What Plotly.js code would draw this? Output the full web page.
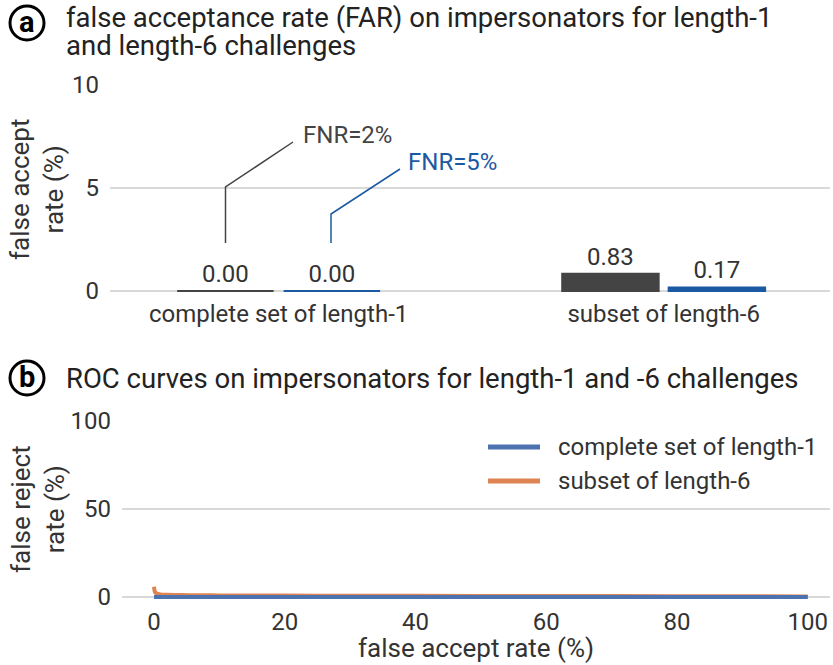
<!DOCTYPE html>
<html>
<head>
<meta charset="utf-8">
<script src="https://cdn.plot.ly/plotly-3.0.1.min.js"></script>
<style>html,body{margin:0;padding:0;background:#fff}#chart{width:833px;height:665px}</style>
</head>
<body>
<div id="chart"></div>
<script>
// ---- data ----
const barCategories = ["complete set of length-1", "subset of length-6"];
const barSeriesNames = ["FNR=2%", "FNR=5%"];
const farFNR2 = [0.00, 0.83];
const farFNR5 = [0.00, 0.17];
const barYTicks = [0, 5, 10];

const rocNames = ["complete set of length-1", "subset of length-6"];
const rocLen1FAR = [0, 10, 20, 40, 60, 80, 100];
const rocLen1FRR = [0, 0, 0, 0, 0, 0, 0];
const rocLen6FAR = [0, 0.1, 0.3, 0.6, 1, 2, 4, 7, 10, 20, 30, 50, 70, 90, 100];
const rocLen6FRR = [5.8, 3.2, 2.2, 1.8, 1.5, 1.3, 1.1, 1.0, 0.9, 0.8, 0.7, 0.6, 0.5, 0.4, 0.3];
const rocXTicks = [0, 20, 40, 60, 80, 100];
const rocYTicks = [0, 50, 100];

// ---- styling ----
const W = 833, H = 665;
const px = p => p / W;
const py = p => 1 - p / H;
const FONT = "Roboto, 'Noto Sans', sans-serif";
const TXT = "#333333";
const DARK = "#444444";
const BLUE = "#1b5aa2";
const ROC_BLUE = "#4c72b0";
const ROC_ORANGE = "#dd8452";
const GRID = "#d9d9d9";

const traces = [
  {type: "bar", name: barSeriesNames[0], x: barCategories, y: farFNR2, xaxis: "x", yaxis: "y",
   marker: {color: DARK, line: {color: DARK, width: 2}},
   texttemplate: "%{y:.2f}", textposition: "outside", cliponaxis: false,
   textfont: {family: FONT, size: 24, color: TXT}, showlegend: false, hoverinfo: "x+y+name"},
  {type: "bar", name: barSeriesNames[1], x: barCategories, y: farFNR5, xaxis: "x", yaxis: "y",
   marker: {color: BLUE, line: {color: BLUE, width: 2}},
   texttemplate: "%{y:.2f}", textposition: "outside", cliponaxis: false,
   textfont: {family: FONT, size: 24, color: TXT}, showlegend: false, hoverinfo: "x+y+name"},
  {type: "scatter", mode: "lines", name: rocNames[1], x: rocLen6FAR, y: rocLen6FRR, xaxis: "x2", yaxis: "y2",
   line: {color: ROC_ORANGE, width: 4, shape: "spline", smoothing: 0.6}, showlegend: false},
  {type: "scatter", mode: "lines", name: rocNames[0], x: rocLen1FAR, y: rocLen1FRR, xaxis: "x2", yaxis: "y2",
   line: {color: ROC_BLUE, width: 4}, showlegend: false}
];

function circleShape(cx, cy, r) {
  return {type: "circle", xref: "paper", yref: "paper",
    x0: px(cx - r), x1: px(cx + r), y0: py(cy + r), y1: py(cy - r),
    line: {color: "#000", width: 3}};
}
function pathPx(points, color) {
  const d = points.map((p, i) => (i ? "L" : "M") + px(p[0]) + "," + py(p[1])).join(" ");
  return {type: "path", xref: "paper", yref: "paper", path: d, line: {color: color, width: 1.5}};
}
function linePx(x0, x1, y, color) {
  return {type: "line", xref: "paper", yref: "paper", x0: px(x0), x1: px(x1), y0: py(y), y1: py(y),
    line: {color: color, width: 5}};
}
function ann(text, x, y, opts) {
  return Object.assign({text: text, xref: "paper", yref: "paper", x: px(x), y: py(y),
    showarrow: false, xanchor: "left", yanchor: "middle", align: "left", borderpad: 0,
    font: {family: FONT, size: 24, color: TXT}}, opts || {});
}
const TITLE_FONT = {family: FONT, size: 27.5, color: "#222"};

const layout = {
  width: W, height: H,
  margin: {l: 0, r: 0, t: 0, b: 0},
  paper_bgcolor: "#fff", plot_bgcolor: "#fff",
  font: {family: FONT, size: 24, color: TXT},
  barmode: "group", bargap: 0.447, bargroupgap: 0.094,
  showlegend: false,
  xaxis: {domain: [px(110), px(830)], anchor: "y", type: "category", range: [-0.438, 1.432],
    showgrid: false, zeroline: false, showline: false, ticks: "", ticklabelstandoff: 3,
    tickfont: {family: FONT, size: 24, color: TXT}},
  yaxis: {domain: [py(294), py(85)], anchor: "x", range: [-0.15, 10], tickvals: barYTicks,
    showgrid: true, gridcolor: GRID, gridwidth: 1.5, zeroline: false, showline: false, ticks: "",
    ticklabelstandoff: 10, tickfont: {family: FONT, size: 24, color: TXT}},
  xaxis2: {domain: [px(122), px(830)], anchor: "y2", range: [-4.9, 103.4], tickvals: rocXTicks,
    showgrid: false, zeroline: false, showline: false, ticks: "", ticklabelstandoff: 4,
    tickfont: {family: FONT, size: 24, color: TXT}},
  yaxis2: {domain: [py(601.4), py(421)], anchor: "x2", range: [-2.5, 100], tickvals: rocYTicks,
    showgrid: true, gridcolor: GRID, gridwidth: 1.5, zeroline: false, showline: false, ticks: "",
    ticklabelstandoff: 10, tickfont: {family: FONT, size: 24, color: TXT}},
  shapes: [
    circleShape(27, 23, 17),
    circleShape(27, 378, 17),
    pathPx([[225.5, 243], [225.5, 187], [293, 142]], DARK),
    pathPx([[331, 243], [331, 214], [400, 169]], BLUE),
    linePx(488, 540, 447, ROC_BLUE),
    linePx(488, 540, 481, ROC_ORANGE)
  ],
  annotations: [
    ann("<b>a</b>", 27, 22, {xanchor: "center", font: {family: FONT, size: 29, color: "#000"}}),
    ann("<b>b</b>", 27, 377, {xanchor: "center", font: {family: FONT, size: 29, color: "#000"}}),
    ann("false acceptance rate (FAR) on impersonators for length-1", 65, 17, {font: TITLE_FONT}),
    ann("and length-6 challenges", 65, 45, {font: TITLE_FONT}),
    ann("ROC curves on impersonators for length-1 and -6 challenges", 65, 378, {font: TITLE_FONT}),
    ann(barSeriesNames[0], 302, 135, {font: {family: FONT, size: 24, color: DARK}}),
    ann(barSeriesNames[1], 407, 162, {font: {family: FONT, size: 24, color: BLUE}}),
    ann("false accept<br>rate (%)", 37, 190, {xanchor: "center", align: "center", textangle: -90,
        font: {family: FONT, size: 26, color: TXT}}),
    ann("false reject<br>rate (%)", 38, 509, {xanchor: "center", align: "center", textangle: -90,
        font: {family: FONT, size: 26, color: TXT}}),
    ann("false accept rate (%)", 476, 648, {xanchor: "center", align: "center",
        font: {family: FONT, size: 26, color: TXT}}),
    ann(rocNames[0], 557, 447),
    ann(rocNames[1], 557, 481)
  ]
};

Plotly.newPlot("chart", traces, layout, {displayModeBar: false, staticPlot: true});
</script>
</body>
</html>
